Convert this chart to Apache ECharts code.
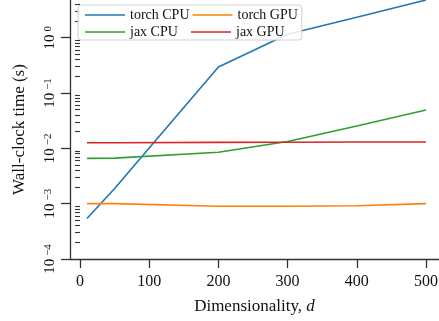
<!DOCTYPE html>
<html>
<head>
<meta charset="utf-8">
<script src="https://cdn.jsdelivr.net/npm/echarts@6/dist/echarts.min.js"></script>
<style>html,body{margin:0;padding:0;background:#fff}#c{width:439px;height:321px}</style>
</head>
<body>
<div id="c"></div>
<script>
// ---- data ----
const dims = [10, 50, 200, 300, 400, 500];
const seriesNames = ['torch CPU', 'torch GPU', 'jax CPU', 'jax GPU'];
const torchCPU = [5.4e-4, 1.88e-3, 0.295, 1.15, 2.34, 4.8];
const torchGPU = [1.0e-3, 1.0e-3, 8.97e-4, 8.97e-4, 9.2e-4, 1.0e-3];
const jaxCPU   = [6.6e-3, 6.65e-3, 8.5e-3, 0.0133, 0.0254, 0.0493];
const jaxGPU   = [0.01265, 0.01265, 0.0128, 0.0129, 0.0130, 0.0130];
const xTicks = [0, 100, 200, 300, 400, 500];
const yMajorTicks = [1e-4, 1e-3, 1e-2, 1e-1, 1];
const yMinorTicks = [];
for (let e = -4; e <= 0; e++) for (let m = 2; m <= 9; m++) { const v = m * Math.pow(10, e); if (v <= 4.8) yMinorTicks.push(+v.toPrecision(3)); }

const colors = ['#1f77b4', '#ff7f0e', '#2ca02c', '#d62728'];
const values = [torchCPU, torchGPU, jaxCPU, jaxGPU];
const FONT = '"Liberation Serif", "DejaVu Serif", serif';
const AX = '#333';

const chart = echarts.init(document.getElementById('c'), null, {renderer: 'canvas'});
chart.setOption({
  animation: false,
  backgroundColor: '#fff',
  grid: {left: 70, right: 0, top: 0, bottom: 62, containLabel: false, outerBoundsMode: 'none'},
  legend: {
    data: seriesNames,
    left: 78, top: 5, width: 250,
    orient: 'horizontal',
    icon: 'rect',
    padding: [3, 4, 1, 7],
    itemGap: 3,
    itemWidth: 40, itemHeight: 1.6,
    backgroundColor: 'rgba(255,255,255,0.85)',
    borderColor: '#d0d0d0', borderWidth: 1, borderRadius: 3,
    textStyle: {fontFamily: FONT, fontSize: 14, color: '#111', width: 58, lineHeight: 12}
  },
  xAxis: {
    type: 'value', min: -14.5, max: 518.8,
    name: 'Dimensionality, {i|d}', nameLocation: 'middle', nameGap: 39,
    nameTextStyle: {fontFamily: FONT, fontSize: 17, color: '#111', rich: {i: {fontFamily: FONT, fontSize: 17, fontStyle: 'italic', color: '#111'}}},
    splitLine: {show: false},
    axisLine: {show: true, onZero: false, lineStyle: {color: AX, width: 1.3}},
    axisTick: {show: true, length: 9, customValues: xTicks, lineStyle: {color: AX, width: 1.3}},
    axisLabel: {customValues: xTicks, margin: 15, fontFamily: FONT, fontSize: 16, color: '#111'}
  },
  yAxis: [{
    type: 'log', logBase: 10, min: 1e-4, max: 4.8,
    name: 'Wall-clock time (s)', nameLocation: 'middle', nameGap: 42,
    nameTextStyle: {fontFamily: FONT, fontSize: 17, color: '#111'},
    splitLine: {show: false},
    axisLine: {show: true, onZero: false, lineStyle: {color: AX, width: 1.3}},
    axisTick: {show: true, length: 9, customValues: yMajorTicks, lineStyle: {color: AX, width: 1.3}},
    axisLabel: {
      customValues: yMajorTicks, rotate: 90, margin: 12,
      formatter: function (v) {
        const e = Math.round(Math.log10(v));
        return '{b|10}{e|' + (e < 0 ? '\u2212' + (-e) : String(e)) + '}';
      },
      rich: {
        b: {fontFamily: FONT, fontSize: 15, color: '#111', verticalAlign: 'bottom'},
        e: {fontFamily: FONT, fontSize: 11, color: '#111', verticalAlign: 'top', padding: [0, 0, 0, 3]}
      }
    }
  }, {
    type: 'log', logBase: 10, min: 1e-4, max: 4.8, position: 'left',
    splitLine: {show: false},
    axisLine: {show: false},
    axisTick: {show: true, length: 5, customValues: yMinorTicks, lineStyle: {color: AX, width: 1.1}},
    axisLabel: {show: false}
  }],
  series: seriesNames.map((n, k) => ({
    name: n, type: 'line', yAxisIndex: 0,
    symbol: 'none', z: 2 + k,
    color: colors[k],
    lineStyle: {color: colors[k], width: 1.6},
    data: dims.map((d, i) => [d, values[k][i]])
  }))
});
</script>
</body>
</html>
